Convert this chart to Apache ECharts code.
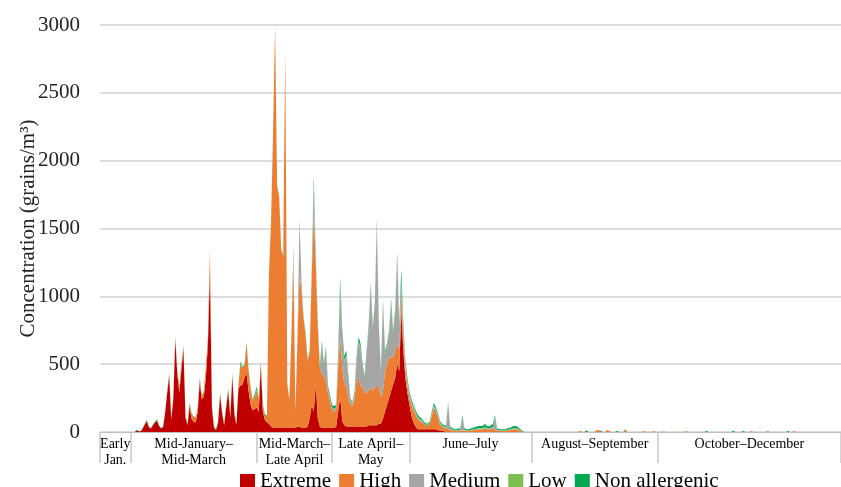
<!DOCTYPE html>
<html>
<head>
<meta charset="utf-8">
<script src="https://cdn.jsdelivr.net/npm/echarts@6/dist/echarts.min.js"></script>
<style>
html,body{margin:0;padding:0;background:#fff;}
#chart{width:841px;height:487px;}
</style>
</head>
<body>
<div id="chart"></div>
<script>
// Daily pollen concentration (grains/m3), day 0 = 1 January, 365 days
const seriesNames = ['Extreme', 'High', 'Medium', 'Low', 'Non allergenic'];
const seriesColors = ['#C00000', '#ED7D31', '#A5A5A5', '#7ABF4E', '#00A850'];

const periodLabels = ['Early\nJan.', 'Mid-January–\nMid-March', 'Mid-March–\nLate April', 'Late April–\nMay', 'June–July', 'August–September', 'October–December'];
const periodBounds = [0, 15, 77, 114, 152, 212, 274, 364];
const periodMids = [7.5, 46, 95.5, 133, 182, 243, 319];

const yTicks = [0, 500, 1000, 1500, 2000, 2500, 3000];

const extreme = [
0,0,0,0,0,0,0,0,0,0,
0,0,0,0,0,0,0,0,10,5,
5,25,55,80,35,25,50,70,85,45,
25,35,140,285,415,90,235,680,420,290,
470,610,105,50,190,95,75,70,150,370,
240,260,400,640,1180,170,30,15,70,270,
135,50,185,300,105,410,130,50,320,340,
350,400,435,300,200,160,170,180,150,495,
150,90,70,60,40,30,30,30,30,30,
30,30,30,30,30,30,30,40,40,30,
30,30,40,100,200,150,360,100,40,30,
30,30,30,30,30,30,40,150,260,80,
50,40,40,40,40,40,40,40,40,40,
40,40,50,50,50,50,50,60,60,100,
150,200,250,300,350,400,500,450,900,600,
400,290,200,120,70,40,20,20,20,20,
20,20,20,20,20,20,15,10,10,5,
0,0,0,0,0,0,0,0,0,0,
0,0,0,0,0,0,0,0,0,0,
0,0,0,0,0,0,0,0,0,0,
0,0,0,0,0,0,0,0,0,0,
0,0,0,0,0,0,0,0,0,0,
0,0,0,0,0,0,0,0,0,0,
0,0,0,0,0,0,0,0,0,0,
0,0,0,0,0,0,0,0,0,0,
0,0,0,0,0,0,0,0,0,0,
0,0,0,0,0,0,0,0,0,0,
0,0,0,0,0,0,0,0,0,0,
0,0,0,0,0,0,0,0,0,0,
0,0,0,0,0,0,0,0,0,0,
0,0,0,0,0,0,0,0,0,0,
0,0,0,0,0,0,0,0,0,0,
0,0,0,0,0,0,0,0,0,0,
0,0,0,0,0,0,0,0,0,0,
0,0,0,0,0,0,0,0,0,0,
0,0,0,0,0,0,0,0,0,0,
0,0,0,0,0
];

const high = [
0,0,0,0,0,0,0,0,0,0,
0,0,0,0,0,0,0,0,0,0,
0,0,0,5,0,0,0,0,5,0,
0,0,5,10,10,5,10,20,25,40,
25,25,10,5,20,40,35,35,25,25,
25,35,75,55,150,25,5,0,5,15,
10,5,10,15,10,20,15,5,25,160,
120,90,215,150,115,65,90,130,85,15,
40,30,40,1100,1490,2160,2960,1770,1700,1310,
1260,2790,320,200,660,1230,110,640,1130,1000,
800,680,480,480,950,1460,870,670,420,400,
380,340,260,200,130,120,130,330,435,400,
300,300,220,160,150,200,330,360,300,290,
250,250,260,270,250,280,290,270,200,200,
300,300,300,250,200,200,150,150,100,80,
60,50,50,80,90,90,80,60,55,45,
30,25,40,100,160,130,95,45,30,25,
25,20,15,10,8,8,10,12,10,12,
8,8,10,12,14,16,18,18,18,25,
18,16,20,25,12,12,8,8,8,8,
10,12,14,18,18,16,10,6,2,0,
0,0,0,0,0,0,0,0,0,0,
0,0,0,0,0,0,0,0,0,0,
0,0,0,0,0,0,10,0,0,0,
0,0,0,0,15,12,0,0,0,15,
10,0,0,0,0,0,0,0,12,0,
0,0,0,0,0,0,0,8,0,0,
0,0,8,0,0,0,0,0,0,0,
0,0,0,0,0,0,0,0,0,0,
0,0,0,0,0,0,0,0,0,0,
0,0,0,0,0,0,0,0,0,0,
0,0,0,0,0,0,0,0,0,0,
8,0,0,0,0,0,0,0,0,0,
0,0,0,0,0,0,0,0,0,0,
0,8,0,0,0,0,0,0,0,0,
0,0,0,0,0,0,0,0,0,0,
0,0,0,0,0
];

const medium = [
0,0,0,0,0,0,0,0,0,0,
0,0,0,0,0,0,0,0,0,0,
0,0,0,0,0,0,0,0,0,0,
0,0,0,0,0,0,0,0,0,0,
0,0,0,0,0,0,0,0,0,0,
0,0,0,0,0,0,0,0,0,0,
0,0,0,0,0,0,0,0,0,0,
0,0,0,0,0,0,0,0,0,0,
0,0,0,5,5,5,5,5,5,0,
0,0,0,0,0,115,0,10,390,60,
10,10,10,10,30,210,40,10,10,220,
70,240,30,20,15,15,10,90,390,220,
170,220,135,35,15,45,155,260,270,145,
100,285,460,750,455,595,1190,425,170,650,
125,125,170,400,170,265,630,170,100,70,
40,30,25,20,20,10,10,10,10,5,
5,5,5,10,10,10,10,10,5,5,
10,190,10,5,2,2,3,4,95,4,
2,2,3,4,5,6,6,6,6,8,
6,6,7,8,95,4,2,2,2,2,
3,4,5,6,6,6,3,2,1,0,
0,0,0,0,0,0,0,0,0,0,
0,0,0,0,0,0,0,0,0,0,
0,0,0,0,0,0,0,0,0,0,
0,0,0,0,0,0,0,0,0,0,
0,0,0,0,0,0,0,0,0,0,
0,0,0,0,0,0,0,0,0,0,
0,0,0,0,0,0,0,6,0,0,
0,0,0,0,0,0,0,0,0,0,
0,0,0,0,0,0,0,0,0,0,
0,0,0,0,0,0,0,0,0,0,
0,0,0,0,0,0,0,0,0,0,
0,0,0,0,0,0,0,0,0,0,
0,0,0,0,0,0,0,0,0,0,
0,0,0,0,0,0,0,0,0,0,
0,0,0,0,0,0,0,0,0,0,
0,0,0,0,0
];

const low = [
0,0,0,0,0,0,0,0,0,0,
0,0,0,0,0,0,0,0,0,0,
0,0,0,0,0,0,0,0,0,0,
0,0,0,0,0,0,0,0,0,0,
0,0,0,0,0,0,0,0,0,0,
0,0,0,0,0,0,0,0,0,0,
0,0,0,0,0,0,0,0,0,5,
0,0,0,0,5,5,5,5,5,0,
0,0,0,0,0,0,0,0,0,0,
0,0,0,0,0,0,0,0,0,0,
0,0,0,0,0,20,0,0,0,0,
0,0,0,0,5,5,5,10,15,10,
10,10,5,5,5,5,5,10,10,5,
5,5,10,10,10,10,15,10,5,10,
10,10,10,10,10,10,15,10,20,10,
10,5,5,5,5,5,5,5,5,0,
0,0,5,5,5,5,5,5,5,5,
5,5,5,5,2,2,2,3,5,3,
2,2,2,3,3,4,5,5,5,6,
5,4,5,6,5,3,2,2,2,2,
2,3,3,5,5,4,2,2,0,0,
0,0,0,0,0,0,0,0,0,0,
0,0,0,0,0,0,0,0,0,0,
0,0,0,0,0,0,0,0,0,0,
0,0,0,0,0,0,0,0,0,0,
0,0,0,0,0,0,0,0,0,0,
0,0,0,0,0,0,0,0,0,0,
0,0,0,0,0,0,0,0,0,0,
0,0,0,0,0,0,0,0,8,0,
0,0,0,0,0,0,0,0,0,0,
0,0,0,0,0,0,0,0,0,0,
0,0,0,0,0,0,0,0,0,0,
0,0,0,0,0,0,0,0,10,0,
0,0,0,0,0,0,0,0,0,0,
0,0,0,0,0,0,0,0,0,0,
0,0,0,0,0,0,0,0,0,0,
0,0,0,0,0
];

const nonAllergenic = [
0,0,0,0,0,0,0,0,0,0,
0,0,0,0,0,0,0,0,5,5,
0,5,5,5,5,5,5,5,5,5,
5,5,5,5,10,5,5,5,5,5,
5,5,5,5,7,5,5,5,5,5,
5,5,5,5,10,5,5,5,5,5,
5,5,5,5,5,5,5,5,5,15,
10,10,10,10,10,10,15,20,10,10,
10,10,10,10,10,5,5,10,10,10,
10,10,10,10,10,10,10,10,10,10,
10,10,10,10,20,50,30,20,20,20,
20,20,20,20,20,20,15,20,40,40,
30,30,20,10,10,10,20,30,30,20,
15,20,20,20,15,15,25,15,15,20,
15,15,20,20,20,25,30,20,80,40,
20,25,20,15,15,15,15,15,10,10,
10,10,10,15,20,15,15,10,10,10,
10,10,10,10,8,8,10,11,15,11,
8,8,10,11,13,14,16,16,16,21,
16,14,18,21,13,11,8,8,8,8,
10,11,13,16,16,14,10,5,2,0,
0,0,0,0,0,0,0,0,0,0,
0,0,0,0,0,0,0,0,0,0,
0,0,0,0,0,0,0,0,0,12,
0,0,0,0,0,0,10,0,0,0,
0,0,0,0,10,0,0,0,8,0,
0,0,0,0,0,0,0,0,0,0,
0,0,0,0,0,0,0,0,0,0,
0,0,0,0,0,0,0,0,0,0,
0,0,0,0,0,0,0,0,8,0,
0,0,0,0,0,0,0,0,0,0,
0,10,0,0,0,0,8,0,0,0,
0,0,0,0,0,0,0,0,0,0,
0,0,0,0,0,0,0,0,8,0,
0,0,0,0,0,0,0,0,0,0,
0,0,0,0,0,0,0,0,0,0,
0,0,0,0,0
];

const allValues = [extreme, high, medium, low, nonAllergenic];
const days = extreme.map((v, i) => String(i));
const serifFont = '"Liberation Serif", "Times New Roman", serif';

const chart = echarts.init(document.getElementById('chart'), null, {renderer: 'canvas'});

function periodLabel(v) {
  for (let i = 0; i < periodMids.length; i++) {
    if (Math.abs(periodMids[i] - v) < 0.01) return periodLabels[i];
  }
  return '';
}

const series = seriesNames.map((name, k) => ({
  name: name,
  type: 'line',
  stack: 'total',
  xAxisIndex: 0,
  symbol: 'none',
  showSymbol: false,
  smooth: false,
  lineStyle: {width: 0, opacity: 0},
  itemStyle: {color: seriesColors[k]},
  areaStyle: {color: seriesColors[k], opacity: 1},
  emphasis: {disabled: true},
  data: allValues[k]
}));

chart.setOption({
  animation: false,
  backgroundColor: '#ffffff',
  textStyle: {fontFamily: serifFont},
  grid: {left: 100, right: -7, top: 25, bottom: 55, containLabel: false},
  legend: {
    data: seriesNames,
    left: 235,
    top: 466,
    icon: 'rect',
    itemWidth: 15,
    itemHeight: 15,
    itemGap: 8,
    textStyle: {fontFamily: serifFont, fontSize: 21, color: '#000'}
  },
  xAxis: [{
    type: 'category',
    data: days,
    boundaryGap: false,
    position: 'bottom',
    show: false
  }, {
    type: 'value',
    min: 0,
    max: 364,
    position: 'bottom',
    splitLine: {show: false},
    axisLine: {show: true, onZero: false, lineStyle: {color: '#bfbfbf', width: 1}},
    axisTick: {show: true, customValues: periodBounds, length: 31, inside: false, lineStyle: {color: '#c8c8c8', width: 1.5}},
    axisLabel: {
      customValues: periodMids,
      formatter: periodLabel,
      fontFamily: serifFont,
      fontSize: 14,
      lineHeight: 16,
      color: '#000',
      margin: 4,
      showMinLabel: true,
      showMaxLabel: true,
      hideOverlap: false
    }
  }],
  yAxis: {
    type: 'value',
    min: 0,
    max: 3000,
    interval: 500,
    name: 'Concentration (grains/m³)',
    nameLocation: 'middle',
    nameGap: 61,
    nameMoveOverlap: false,
    nameTextStyle: {fontFamily: serifFont, fontSize: 21, color: '#222'},
    axisLine: {show: false},
    axisTick: {show: false},
    axisLabel: {fontFamily: serifFont, fontSize: 21, color: '#222', margin: 20, formatter: v => String(v)},
    splitLine: {show: true, lineStyle: {color: '#d0d0d0', width: 1.5}}
  },
  series: series
});
</script>
</body>
</html>
